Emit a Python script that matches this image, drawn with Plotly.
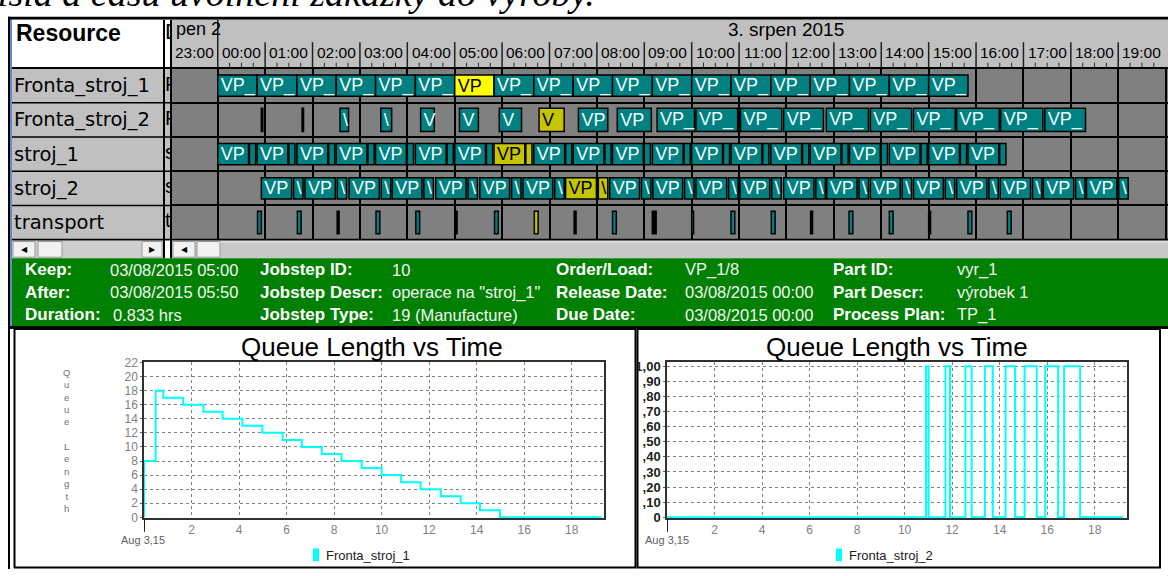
import plotly.graph_objects as go

W, H = 1168, 576

# ---------------- gantt data (hours from 3 Aug 2015 00:00) ----------------
resources = ["Fronta_stroj_1", "Fronta_stroj_2", "stroj_1", "stroj_2", "transport"]
resource_codes = ["F", "F", "s", "s", "t"]
hour_labels = ["23:00", "00:00", "01:00", "02:00", "03:00", "04:00", "05:00", "06:00", "07:00",
               "08:00", "09:00", "10:00", "11:00", "12:00", "13:00", "14:00", "15:00", "16:00",
               "17:00", "18:00", "19:00"]
hour_starts = [-1, 0, 1, 2, 3, 4, 5, 6, 7, 8, 9, 10, 11, 12, 13, 14, 15, 16, 17, 18, 19]

# colour keys: t teal, y yellow, o olive (selected order), k black (zero length)
fr1_start = [0.00, 0.83, 1.67, 2.50, 3.33, 4.17, 5.00, 5.83, 6.67, 7.50, 8.33, 9.17, 10.00,
             10.83, 11.67, 12.50, 13.33, 14.17, 15.00]
fr1_end = [0.83, 1.67, 2.50, 3.33, 4.17, 5.00, 5.83, 6.67, 7.50, 8.33, 9.17, 10.00, 10.83,
           11.67, 12.50, 13.33, 14.17, 15.00, 15.83]
fr1_col = "ttttttytttttttttttt"
fr1_text = ["VP_", "VP_", "VP_", "VP_", "VP_", "VP_", "VP", "VP_", "VP_", "VP_", "VP_", "VP_",
            "VP_", "VP_", "VP_", "VP_", "VP_", "VP_", "VP_"]

fr2_start = [0.92, 1.78, 2.58, 3.44, 4.28, 5.10, 5.94, 6.78, 7.61, 8.43, 9.27, 10.09, 11.03,
             11.94, 12.84, 13.77, 14.68, 15.59, 16.52, 17.45]
fr2_end = [0.95, 1.81, 2.76, 3.67, 4.57, 5.50, 6.41, 7.31, 8.23, 9.15, 10.06, 10.97, 11.90,
           12.78, 13.73, 14.64, 15.56, 16.49, 17.41, 18.31]
fr2_col = "kktttttotttttttttttt"
fr2_text = ["", "", "\\", "\\", "V", "V", "V", "V", "VP", "VP", "VP_", "VP_", "VP_", "VP_",
            "VP_", "VP_", "VP_", "VP_", "VP_", "VP_"]

s1_start = [0.00, 0.83, 1.67, 2.50, 3.33, 4.17, 5.00, 5.83, 6.67, 7.50, 8.33, 9.17, 10.00,
            10.83, 11.67, 12.50, 13.33, 14.17, 15.00, 15.83]
s1_end = [0.65, 1.48, 2.32, 3.15, 3.98, 4.82, 5.65, 6.48, 7.32, 8.15, 8.98, 9.82, 10.65,
          11.48, 12.32, 13.15, 13.98, 14.82, 15.65, 16.48]
s1_setup_start = [0.67, 1.50, 2.34, 3.17, 4.00, 4.84, 5.67, 6.50, 7.34, 8.17, 9.00, 9.84,
                  10.67, 11.50, 12.34, 13.17, 14.00, 14.84, 15.67, 16.50]
s1_setup_end = [0.80, 1.63, 2.47, 3.30, 4.13, 4.97, 5.80, 6.63, 7.47, 8.30, 9.13, 9.97,
                10.80, 11.63, 12.47, 13.30, 14.13, 14.97, 15.80, 16.63]
s1_col = "tttttttotttttttttttt"

s2_start = [0.92, 1.84, 2.77, 3.68, 4.60, 5.53, 6.44, 7.34, 8.27, 9.18, 10.09, 11.02, 11.94,
            12.85, 13.77, 14.68, 15.59, 16.51, 17.42, 18.33]
s2_end = [1.56, 2.48, 3.41, 4.31, 5.24, 6.16, 7.07, 7.99, 8.90, 9.81, 10.74, 11.65, 12.58,
          13.49, 14.40, 15.31, 16.23, 17.15, 18.06, 18.97]
s2_setup_start = [1.60, 2.52, 3.45, 4.35, 5.28, 6.20, 7.11, 8.03, 8.94, 9.85, 10.78, 11.69,
                  12.62, 13.53, 14.44, 15.35, 16.27, 17.19, 18.10, 19.01]
s2_setup_end = [1.80, 2.72, 3.65, 4.55, 5.48, 6.40, 7.31, 8.23, 9.14, 10.05, 10.98, 11.89,
                12.82, 13.73, 14.64, 15.55, 16.47, 17.39, 18.30, 19.21]
s2_col = "tttttttotttttttttttt"

tr_start = [0.84, 1.68, 2.52, 3.34, 4.18, 5.01, 5.84, 6.68, 7.52, 8.33, 9.17, 10.00, 10.83,
            11.68, 12.51, 13.32, 14.17, 15.00, 15.83, 16.66]
tr_end = [0.92, 1.76, 2.56, 3.42, 4.26, 5.05, 5.92, 6.76, 7.56, 8.41, 9.25, 10.04, 10.91,
          11.76, 12.55, 13.40, 14.25, 15.04, 15.91, 16.74]
tr_col = "ttkttktoktktttkttktt"

# ---------------- info panel ----------------
info_labels = [["Keep:", "After:", "Duration:"],
               ["Jobstep ID:", "Jobstep Descr:", "Jobstep Type:"],
               ["Order/Load:", "Release Date:", "Due Date:"],
               ["Part ID:", "Part Descr:", "Process Plan:"]]
info_values = [["03/08/2015 05:00", "03/08/2015 05:50", "0.833 hrs"],
               ["10", "operace na \"stroj_1\"", "19 (Manufacture)"],
               ["VP_1/8", "03/08/2015 00:00", "03/08/2015 00:00"],
               ["vyr_1", "výrobek 1", "TP_1"]]

# ---------------- queue length charts (hours) ----------------
q1_time = [0.00, 0.00, 0.49, 0.81, 1.65, 2.50, 3.31, 4.14, 4.98, 5.83, 6.64, 7.48, 8.31,
           9.16, 10.00, 10.82, 11.64, 12.49, 13.33, 14.14, 14.98, 19.26]
q1_len = [0, 8, 18, 17, 16, 15, 14, 13, 12, 11, 10, 9, 8, 7, 6, 5, 4, 3, 2, 1, 0, 0]

q2_time = [0.00, 10.90, 11.01, 11.72, 11.91, 12.56, 12.82, 13.38, 13.71, 14.25, 14.65,
           15.05, 15.56, 15.92, 16.46, 16.71, 17.39, 19.19]
q2_len = [0, 1, 0, 1, 0, 1, 0, 1, 0, 1, 0, 1, 0, 1, 0, 1, 0, 0]

x_ticks = [2, 4, 6, 8, 10, 12, 14, 16, 18]
x_ticktext = ["2", "4", "6", "8", "10", "12", "14", "16", "18"]
q1_ticks = [0, 2, 4, 6, 8, 10, 12, 14, 16, 18, 20, 22]
q1_ticktext = ["0", "2", "4", "6", "8", "10", "12", "14", "16", "18", "20", "22"]
q2_ticks = [0, 0.1, 0.2, 0.3, 0.4, 0.5, 0.6, 0.7, 0.8, 0.9, 1.0]
q2_ticktext = ["0", ",10", ",20", ",30", ",40", ",50", ",60", ",70", ",80", ",90", "1,00"]

TEAL = "#008080"
colours = {"t": TEAL, "y": "#ffff00", "o": "#c4c400", "k": "#000000"}
SANS = "Liberation Sans, Arial, sans-serif"
WIDE = "DejaVu Sans, sans-serif"


def X(p):
    return p / W


def Y(p):
    return 1 - p / H


fig = go.Figure()


def add_bars(row, starts, ends, cols, texts, width):
    fig.add_trace(go.Bar(
        orientation="h", base=starts, x=[e - s for s, e in zip(starts, ends)],
        y=[row] * len(starts), width=width,
        marker=dict(color=[colours[c] for c in cols], line=dict(color="#000000", width=1.5)),
        text=texts, textposition="inside", insidetextanchor="start", textangle=0,
        constraintext="none",
        textfont=dict(family=SANS, size=18,
                      color=["#000000" if c in "yo" else "#f2ffff" for c in cols]),
        xaxis="x", yaxis="y", showlegend=False, hoverinfo="skip"))


add_bars(0, fr1_start, fr1_end, fr1_col, fr1_text, 0.62)
add_bars(1, fr2_start, fr2_end, fr2_col, fr2_text, 0.68)
add_bars(2, s1_start, s1_end, s1_col, ["VP"] * len(s1_start), 0.62)
add_bars(2, s1_setup_start, s1_setup_end, s1_col, [""] * len(s1_start), 0.62)
add_bars(3, s2_start, s2_end, s2_col, ["VP"] * len(s2_start), 0.62)
add_bars(3, s2_setup_start, s2_setup_end, s2_col, ["\\"] * len(s2_start), 0.62)
add_bars(4, tr_start, tr_end, tr_col, [""] * len(tr_start), 0.66)

# clipped first letters of the description column
fig.add_trace(go.Scatter(
    x=[0.0] * 6, y=[-1.53, 0, 1, 2, 3, 4], mode="text", text=["D"] + resource_codes,
    textposition="middle right", cliponaxis=True,
    textfont=dict(family=SANS, size=[22, 20, 20, 20, 20, 20], color="#000000"),
    xaxis="x2", yaxis="y2", showlegend=False, hoverinfo="skip"))

# queue length lines
fig.add_trace(go.Scatter(x=q1_time, y=q1_len, mode="lines",
                         line=dict(color="#00ffff", width=2, shape="hv"),
                         xaxis="x3", yaxis="y3", showlegend=False))
fig.add_trace(go.Scatter(x=q2_time, y=q2_len, mode="lines",
                         line=dict(color="#00ffff", width=2, shape="hv"),
                         xaxis="x4", yaxis="y4", showlegend=False))

shapes = []
annotations = []


def box(x0, y0, x1, y1, fill, line=None, lw=0, layer="below"):
    shapes.append(dict(type="rect", xref="paper", yref="paper", x0=X(x0), x1=X(x1),
                       y0=Y(y1), y1=Y(y0), fillcolor=fill, layer=layer,
                       line=dict(color=line or fill, width=lw)))


def text(x, y, s, size=16, color="#000000", anchor="left", family=SANS, weight="normal",
         xref="paper"):
    annotations.append(dict(x=x if xref != "paper" else X(x), y=Y(y), xref=xref, yref="paper",
                            text=s, showarrow=False, xanchor=anchor, yanchor="middle",
                            font=dict(family=family, size=size, color=color, weight=weight)))


# --- window frame / gantt chrome ---
box(8, 11, 1168, 14, "#000000")
box(8, 11, 10, 576, "#000000")
box(10, 14, 12, 328, "#5f8ccc")
box(12, 14, 164, 64, "#ffffff")
box(164, 14, 171, 64, "#ffffff")
box(12, 64, 171, 239, "#c0c0c0")
box(172, 14, 1168, 64, "#c0c0c0")
box(172, 64, 1168, 239, "#808080")
box(163, 14, 165, 258, "#000000", layer="above")
box(170, 14, 172, 258, "#000000", layer="above")
box(12, 62.5, 1168, 64.5, "#000000", layer="above")
for yb in [99, 134, 169, 204]:
    box(12, yb - 0.75, 171, yb + 0.75, "#000000", layer="above")
box(12, 238, 1168, 240, "#000000", layer="above")

# header: day row and hour cells
for h in hour_starts[1:]:
    y_top = 14 if h == 0 else 37
    shapes.append(dict(type="line", xref="x", yref="paper", x0=h, x1=h, y0=Y(y_top), y1=Y(63),
                       line=dict(color="#202020", width=1.5), layer="above"))
    for q in [0.25, 0.5, 0.75]:
        shapes.append(dict(type="line", xref="x", yref="paper", x0=h + q, x1=h + q,
                           y0=Y(58), y1=Y(62.5), line=dict(color="#303030", width=1)))
for h, lab in zip(hour_starts, hour_labels):
    text(h + 0.5, 48, lab, size=15.5, anchor="center", xref="x")
text(12, 24, "3. srpen 2015", size=19, anchor="center", xref="x")
text(174, 24, "pen 2", size=18)
text(14, 28, "Resource", size=23, weight="bold")
for i, r in enumerate(resources):
    text(12, 81.5 + i * 35, r, size=19.5, family=WIDE)

# scrollbars
box(12, 240, 163, 258, "#cfcfcf")
box(13, 241, 35, 257, "#f2f2f2", "#9a9a9a", 1)
box(38, 241, 62, 257, "#f2f2f2", "#9a9a9a", 1)
box(142, 241, 162, 257, "#f2f2f2", "#9a9a9a", 1)
box(172, 240, 1168, 258, "#c8c8c8")
box(173, 241, 195, 257, "#f2f2f2", "#9a9a9a", 1)
box(197, 241, 220, 257, "#f2f2f2", "#9a9a9a", 1)
box(220, 241, 1168, 242, "#ececec")
text(24, 249, "◀", size=8, anchor="center", family="DejaVu Sans")
text(152, 249, "▶", size=8, anchor="center", family="DejaVu Sans")
text(184, 249, "◀", size=8, anchor="center", family="DejaVu Sans")

# info panel
box(12, 258, 1168, 328, "#008000")
box(8, 327.5, 1168, 330.5, "#000000", layer="above")
label_x = [23, 258, 554, 831]
value_x = [108, 390, 683, 955]
row_y = [270, 293, 316]
for c in range(4):
    for r in range(3):
        text(label_x[c], row_y[r], info_labels[c][r], size=17, color="#ffffff", weight="bold")
        vx = value_x[c] + (3 if (c == 0 and r == 2) else 0)
        text(vx, row_y[r], info_values[c][r], size=16.5, color="#f4f4f4")

# chart boxes
box(14.5, 330.5, 635.5, 574.5, "#ffffff", "#000000", 2)
box(637.5, 330.5, 1160, 574.5, "#ffffff", "#000000", 2)
text(372, 349, "Queue Length vs Time", size=26, anchor="center")
text(897, 349, "Queue Length vs Time", size=26, anchor="center")
annotations.append(dict(x=X(66), y=Y(445), xref="paper", yref="paper", showarrow=False,
                        xanchor="center", yanchor="middle",
                        text="<br>".join(list("Queue") + [""] + list("Length")),
                        font=dict(family=SANS, size=9.5, color="#707070"), align="center"))
text(143, 546, "Aug 3,15", size=11, color="#606060", anchor="center")
text(667, 546, "Aug 3,15", size=11, color="#606060", anchor="center")
for xa in ["x3", "x4"]:
    shapes.append(dict(type="line", xref=xa, yref="paper", x0=0, x1=0, y0=Y(524), y1=Y(538),
                       line=dict(color="#202020", width=2)))
# legends
box(313, 555, 319, 568, "#00ffff", layer="above")
text(324, 562, "Fronta_stroj_1", size=13, color="#202020")
box(836, 555, 842, 568, "#00ffff", layer="above")
text(847, 562, "Fronta_stroj_2", size=13, color="#202020")

# clipped sentence of the surrounding document
annotations.append(dict(x=X(597), y=Y(10.5), xref="paper", yref="paper", showarrow=False,
                        xanchor="right", yanchor="bottom",
                        text="<i>čísla a času uvolnění zakázky do výroby.</i>",
                        font=dict(family="Liberation Serif, serif", size=38, color="#000000")))

chart_x = dict(range=[0, 19.36], tickvals=x_ticks, ticktext=x_ticktext, showgrid=True,
               gridcolor="#808080", griddash="dot", gridwidth=1, showline=True, mirror=True,
               linecolor="#303030", linewidth=1.5, ticks="", zeroline=False,
               tickfont=dict(family=SANS, size=12, color="#808080"), layer="below traces",
               fixedrange=True)
chart_y = dict(showgrid=True, gridcolor="#808080", griddash="dot", gridwidth=1, showline=True,
               mirror=True, linecolor="#303030", linewidth=1.5, ticks="outside", ticklen=2,
               tickcolor="#606060", zeroline=False, layer="below traces", fixedrange=True)

fig.update_layout(
    width=W, height=H, margin=dict(l=0, r=0, t=0, b=0),
    paper_bgcolor="#ffffff", plot_bgcolor="rgba(0,0,0,0)",
    barmode="overlay", showlegend=False, font=dict(family=SANS),
    xaxis=dict(domain=[X(172), 1], range=[-0.965, 20.05], showgrid=True, dtick=1, tick0=0,
               gridcolor="#000000", gridwidth=1.5, showticklabels=False, zeroline=False,
               ticks="", anchor="y", fixedrange=True),
    yaxis=dict(domain=[Y(239), Y(64)], range=[4.5, -0.5], tickvals=[0.5, 1.5, 2.5, 3.5],
               showgrid=True, gridcolor="#000000", gridwidth=1.5, showticklabels=False,
               zeroline=False, ticks="", anchor="x", fixedrange=True),
    xaxis2=dict(domain=[X(165), X(170)], range=[0, 1], visible=False, anchor="y2"),
    yaxis2=dict(domain=[Y(239), Y(14)], range=[4.5, -1.93], visible=False, anchor="x2"),
    xaxis3=dict(domain=[X(144), X(604)], anchor="y3", **chart_x),
    yaxis3=dict(domain=[Y(524), Y(364)], range=[-0.12, 22.1], tickvals=q1_ticks,
                ticktext=q1_ticktext, anchor="x3",
                tickfont=dict(family=SANS, size=12, color="#808080"), **chart_y),
    xaxis4=dict(domain=[X(667), X(1127)], anchor="y4", **chart_x),
    yaxis4=dict(domain=[Y(524), Y(364)], range=[-0.006, 1.03], tickvals=q2_ticks,
                ticktext=q2_ticktext, anchor="x4",
                tickfont=dict(family=SANS, size=13, color="#202020", weight="bold"), **chart_y),
    shapes=shapes, annotations=annotations,
)

# page body margin off so the figure sits at the window's top-left corner
fig.write_html("out.html", config={"displayModeBar": False},
               post_script="document.body.style.margin = '0';")
